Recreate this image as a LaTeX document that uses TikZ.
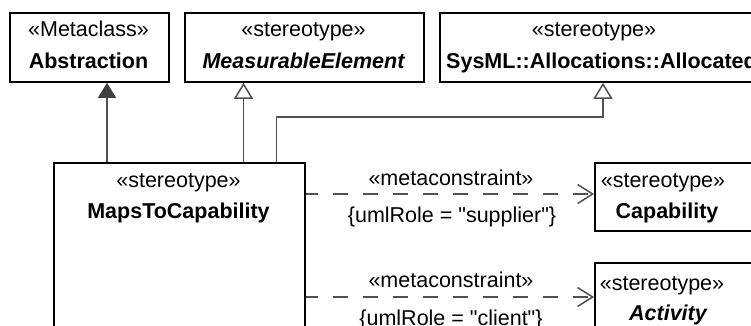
\documentclass[tikz,border=0pt]{standalone}
\usepackage{fontspec}
\setmainfont{Liberation Sans}[Ligatures=TeXOff]
\usetikzlibrary{arrows.meta}
\definecolor{linegrey}{HTML}{505050}
\definecolor{tipgrey}{HTML}{404040}
\newcommand{\sq}{\symbol{34}}
\begin{document}
\begin{tikzpicture}[x=1pt,y=-1pt,
  box/.style={draw=black,line width=1.8pt,fill=white,inner sep=0pt,anchor=north west},
  txt/.style={inner sep=0pt,anchor=base,font=\fontsize{21.5}{25}\selectfont},
  btxt/.style={txt,font=\fontsize{21.5}{25}\selectfont\bfseries},
  bitxt/.style={txt,font=\fontsize{21.5}{25}\selectfont\bfseries\itshape},
  conn/.style={draw=linegrey,line width=1.5pt},
  genfill/.style={conn,-{Triangle[length=15pt,width=18pt,fill=tipgrey,color=tipgrey]}},
  genopen/.style={conn,-{Triangle[open,length=16pt,width=19pt,fill=white,line width=1.5pt]}},
  dep/.style={conn,dash pattern=on 15pt off 15pt,dash phase=3pt,-{Straight Barb[length=15pt,width=19pt,line width=1.5pt]}}
]
\useasboundingbox (0,0) rectangle (751,326);
\clip (0,0) rectangle (751,326);
\fill[white] (0,0) rectangle (751,326);

% boxes
\node[box,minimum width=159pt,minimum height=69pt] (abs) at (9,12) {};
\node[box,minimum width=239pt,minimum height=69pt] (meas) at (184,12) {};
\node[box,minimum width=330pt,minimum height=69pt] (alloc) at (439,12) {};
\node[box,minimum width=251pt,minimum height=190pt] (maps) at (53,162) {};
\node[box,minimum width=180pt,minimum height=68pt] (cap) at (594,162) {};
\node[box,minimum width=180pt,minimum height=90pt] (act) at (594,262) {};

% texts
\node[txt] (absS) at (88.5,37) {«Metaclass»};
\node[btxt] (absN) at (88.5,69) {Abstraction};
\node[txt] (measS) at (303.5,37) {«stereotype»};
\node[bitxt] (measN) at (303.5,69) {MeasurableElement};
\node[txt] (allocS) at (594,37) {«stereotype»};
\node[btxt,anchor=base west] (allocN) at (446,69) {SysML::Allocations::Allocated};
\node[txt] (mapsS) at (178.5,187) {«stereotype»};
\node[btxt] (mapsN) at (178.5,218) {MapsToCapability};
\node[txt] (capS) at (663,187) {«stereotype»};
\node[btxt] (capN) at (667,218) {Capability};
\node[txt] (actS) at (662,290) {«stereotype»};
\node[bitxt] (actN) at (668,320) {Activity};

% generalizations
\coordinate (xa) at (107,0);
\coordinate (xm) at (243.5,0);
\coordinate (xl) at (276.5,0);
\coordinate (xr) at (603,0);
\coordinate (ybend) at (0,117);
\draw[genfill] (xa |- maps.north) -- (xa |- abs.south);
\draw[genopen] (xm |- maps.north) -- (xm |- meas.south);
\draw[genopen] (xl |- maps.north) -- (xl |- ybend) -- (xr |- ybend) -- (xr |- alloc.south);

% metaconstraints
\coordinate (y1) at (0,194);
\coordinate (y2) at (0,297);
\draw[dep] (maps.east |- y1) -- (cap.west |- y1);
\draw[dep] (maps.east |- y2) -- (act.west |- y2);
\node[txt] (mc1) at (451,185) {«metaconstraint»};
\node[txt] (r1) at (452,222) {\{umlRole = \sq supplier\sq\}};
\node[txt] (mc2) at (451,287) {«metaconstraint»};
\node[txt] (r2) at (451,325) {\{umlRole = \sq client\sq\}};
\end{tikzpicture}
\end{document}
